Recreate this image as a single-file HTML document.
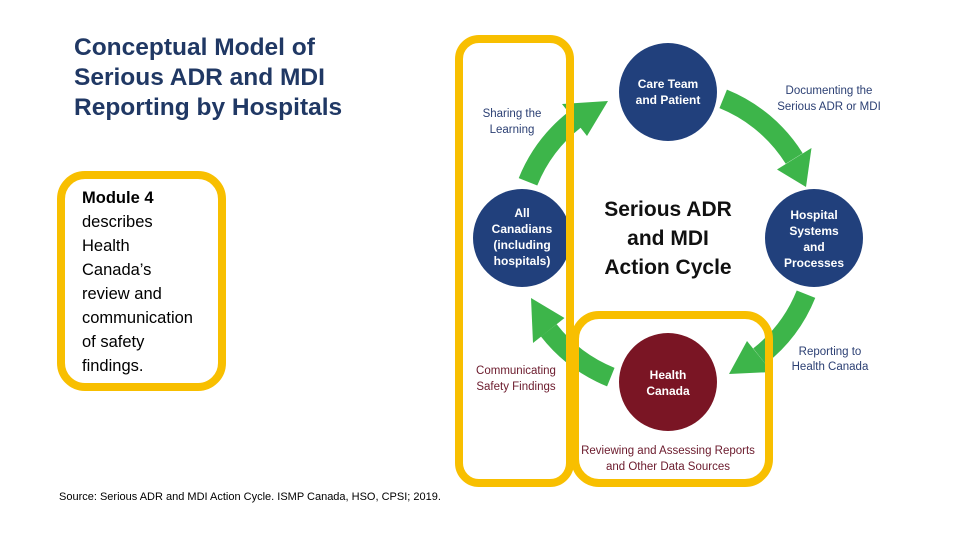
<!DOCTYPE html>
<html><head><meta charset="utf-8"><style>
body{margin:0;width:960px;height:540px;background:#fff;overflow:hidden;position:relative;font-family:"Liberation Sans",sans-serif}
.t{position:absolute;left:74px;top:33px;font-size:24.5px;font-weight:bold;line-height:30px;color:#203864}
.m{position:absolute;left:82px;top:186px;font-size:16.5px;line-height:24px;color:#000}
.s{position:absolute;left:59px;top:491px;font-size:11px;color:#000}
</style></head><body>
<div class="t">Conceptual Model of<br>Serious ADR and MDI<br>Reporting by Hospitals</div>
<svg width="960" height="540" style="position:absolute;left:0;top:0" font-family="Liberation Sans, sans-serif">
<rect x="61" y="175" width="161" height="212" rx="24" fill="none" stroke="#f8bf00" stroke-width="8"/>
<g fill="none" stroke="#3db54a" stroke-width="20">
<path d="M723.2,98.9 A150,150 0 0 1 794.2,158.5"/>
<path d="M806,294.2 A150,150 0 0 1 759.4,356.2"/>
<path d="M610.8,377.1 A150,150 0 0 1 548.8,330.4"/>
<path d="M528,181.8 A150,150 0 0 1 574.6,119.8"/>
</g>
<g fill="#3db54a">
<polygon points="777,169.5 811.5,148 806,187"/>
<polygon points="747,341 772,372 729,374"/>
<polygon points="564.5,318 533,343 531,298"/>
<polygon points="587,136 562,104 608,101"/>
</g>
<circle cx="668" cy="92" r="49" fill="#21407c"/>
<circle cx="814" cy="238" r="49" fill="#21407c"/>
<circle cx="522" cy="238" r="49" fill="#21407c"/>
<circle cx="668" cy="382" r="49" fill="#7a1524"/>
<g fill="#fff" font-weight="bold" font-size="12" text-anchor="middle">
<text x="668" y="88">Care Team</text><text x="668" y="104">and Patient</text>
<text x="814" y="219">Hospital</text><text x="814" y="235">Systems</text><text x="814" y="251">and</text><text x="814" y="267">Processes</text>
<text x="522" y="217">All</text><text x="522" y="233">Canadians</text><text x="522" y="249">(including</text><text x="522" y="265">hospitals)</text>
<text x="668" y="379">Health</text><text x="668" y="395">Canada</text>
</g>
<g font-weight="bold" font-size="21" text-anchor="middle" fill="#111">
<text x="668" y="216">Serious ADR</text><text x="668" y="245">and MDI</text><text x="668" y="274">Action Cycle</text>
</g>
<g font-size="11.5" fill="#2b3f73" text-anchor="middle">
<text x="512" y="117">Sharing the</text><text x="512" y="133">Learning</text>
<text x="829" y="94">Documenting the</text><text x="829" y="110">Serious ADR or MDI</text>
<text x="830" y="355">Reporting to</text><text x="830" y="370">Health Canada</text>
</g>
<g font-size="11.5" fill="#6b1a2c" text-anchor="middle">
<text x="516" y="374">Communicating</text><text x="516" y="390">Safety Findings</text>
<text x="668" y="454">Reviewing and Assessing Reports</text><text x="668" y="470">and Other Data Sources</text>
</g>
<rect x="459" y="39" width="111" height="444" rx="20" fill="none" stroke="#f8bf00" stroke-width="8"/>
<rect x="575" y="315" width="194" height="168" rx="24" fill="none" stroke="#f8bf00" stroke-width="8"/>
</svg>
<div class="m"><b>Module 4</b><br>describes<br>Health<br>Canada’s<br>review and<br>communication<br>of safety<br>findings.</div>
<div class="s">Source: Serious ADR and MDI Action Cycle. ISMP Canada, HSO, CPSI; 2019.</div>
</body></html>
